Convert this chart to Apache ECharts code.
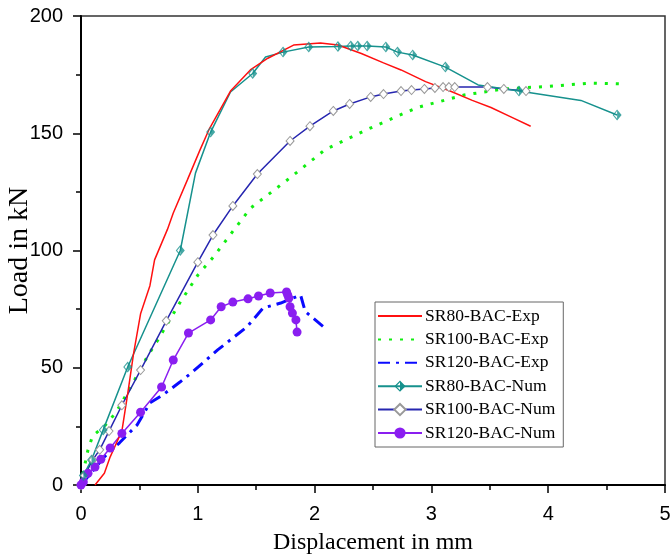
<!DOCTYPE html>
<html>
<head>
<meta charset="utf-8">
<script src="https://cdn.jsdelivr.net/npm/echarts@6/dist/echarts.min.js"></script>
<style>
  html, body { margin: 0; padding: 0; background: #fff; }
  #chart { width: 672px; height: 558px; }
</style>
</head>
<body>
<div id="chart"></div>
<script>
// load-displacement curves, [displacement mm, load kN]
var sr80Exp = [[0.12,0],[0.2,5],[0.25,12],[0.35,23],[0.4,39],[0.45,56],[0.51,73],[0.59,85],[0.63,96],
  [0.74,109],[0.79,116],[0.91,130],[1.02,143],[1.1,152],[1.28,168],[1.45,177],[1.6,182],[1.82,187.6],
  [2.05,188.5],[2.2,187.6],[2.4,184],[2.59,180],[2.74,177],[2.95,172],[3.16,168],[3.35,164],
  [3.51,161],[3.68,157],[3.85,153]];
var sr100Exp = [[0,0],[0.03,8],[0.06,15],[0.1,21],[0.2,25],[0.3,31],[0.44,43],[0.57,55],[0.66,62],
  [0.79,73],[0.85,78],[1.0,89.5],[1.13,97],[1.45,118],[1.79,131],[2.09,143],[2.45,151.6],[2.88,161],
  [3.28,166.3],[3.62,168.9],[4.0,170],[4.37,171.4],[4.65,171]];
var sr120Exp = [[0,0],[0.1,6],[0.2,12],[0.33,18],[0.48,25.6],[0.59,35],[0.7,38.4],[0.85,44],[0.95,48],
  [1.17,57.6],[1.42,67.4],[1.56,75.5],[1.71,77.6],[1.88,81],[1.92,74],[2.11,66]];
var sr80NumLine = [[0,0],[0.02,4],[0.09,10.7],[0.19,23.5],[0.4,50.3],[0.85,100],[0.98,133],[1.11,150.5],
  [1.28,167.6],[1.47,175.5],[1.58,182.5],[1.73,184.6],[1.95,186.8],[2.2,187],[2.31,187.2],[2.37,187.2],
  [2.45,187.2],[2.61,186.8],[2.71,184.6],[2.84,183.4],[3.12,178.2],[3.4,170.6],[3.75,168],[4.28,164],
  [4.59,157.8]];
var sr80NumMarks = [[0.02,4],[0.09,10.7],[0.19,23.5],[0.4,50.3],[0.85,100],[1.11,150.5],[1.47,175.5],
  [1.73,184.6],[1.95,186.8],[2.2,187],[2.31,187.2],[2.37,187.2],[2.45,187.2],[2.61,186.8],[2.71,184.6],
  [2.84,183.4],[3.12,178.2],[3.75,168],[4.59,157.8]];
var sr100Num = [[0,0],[0.03,4],[0.1,10.7],[0.16,15],[0.24,23],[0.35,34],[0.51,49],[0.73,70],[1.0,95],
  [1.13,106.6],[1.3,119],[1.51,132.6],[1.79,146.7],[1.96,153],[2.16,159.5],[2.3,162.5],[2.48,165.5],
  [2.59,166.7],[2.74,168],[2.83,168.4],[2.94,168.9],[3.03,169.3],[3.1,169.7],[3.15,169.7],[3.2,169.7],
  [3.48,169.7],[3.62,168.9],[3.81,168]];
var sr120Num = [[0,0],[0.02,1.3],[0.06,5],[0.12,7.7],[0.17,11],[0.25,15.8],[0.35,22],[0.51,31],
  [0.69,41.8],[0.79,53.3],[0.92,64.8],[1.11,70.4],[1.2,76],[1.3,78],[1.43,79.4],[1.52,80.6],[1.62,81.9],
  [1.76,82.3],[1.77,81],[1.78,79.7],[1.79,76],[1.81,73.3],[1.84,70.4],[1.85,65.2]];

var seriesNames = ['SR80-BAC-Exp','SR100-BAC-Exp','SR120-BAC-Exp','SR80-BAC-Num','SR100-BAC-Num','SR120-BAC-Num'];

var halfDiamond = 'path://M5,0L10,6L5,12L0,6Z M5,1.8L1.5,6L5,10.2Z';
var tealColor = '#16918d';

var myChart = echarts.init(document.getElementById('chart'));
var option = {
  animation: false,
  grid: {
    left: 81, right: 7, top: 16, bottom: 73,
    containLabel: false, outerBoundsMode: 'none',
    show: true, borderColor: '#333', borderWidth: 1.5
  },
  legend: {
    orient: 'vertical',
    left: 375, top: 302,
    padding: [5, 8, 5, 2],
    itemGap: 5.4,
    itemWidth: 44,
    itemHeight: 14,
    borderColor: '#666',
    borderWidth: 1,
    borderRadius: 0,
    textStyle: { fontFamily: 'Liberation Serif', fontSize: 17.5, color: '#000', lineHeight: 16, padding: [0, 0, 0, -2] },
    data: [
      { name: seriesNames[0], itemStyle: { opacity: 0 } },
      { name: seriesNames[1], itemStyle: { opacity: 0 } },
      { name: seriesNames[2], itemStyle: { opacity: 0 } },
      { name: seriesNames[3] },
      { name: seriesNames[4] },
      { name: seriesNames[5] }
    ]
  },
  xAxis: {
    type: 'value', min: 0, max: 5, interval: 1,
    name: 'Displacement in mm', nameLocation: 'middle', nameGap: 46, nameMoveOverlap: false,
    nameTextStyle: { fontFamily: 'Liberation Serif', fontSize: 24, color: '#000' },
    axisLine: { onZero: false, lineStyle: { color: '#000', width: 2 } },
    axisTick: { length: 8, lineStyle: { color: '#000', width: 1.5 } },
    minorTick: { show: true, splitNumber: 2, length: 5, lineStyle: { color: '#000', width: 1.5 } },
    axisLabel: { fontFamily: 'Liberation Sans', fontSize: 20, color: '#000', margin: 19 },
    splitLine: { show: false }
  },
  yAxis: {
    type: 'value', min: 0, max: 200, interval: 50,
    name: 'Load in kN', nameLocation: 'middle', nameGap: 47, nameMoveOverlap: false,
    nameTextStyle: { fontFamily: 'Liberation Serif', fontSize: 28, color: '#000' },
    axisLine: { onZero: false, lineStyle: { color: '#000', width: 2 } },
    axisTick: { length: 8, lineStyle: { color: '#000', width: 1.5 } },
    minorTick: { show: true, splitNumber: 2, length: 5, lineStyle: { color: '#000', width: 1.5 } },
    axisLabel: { fontFamily: 'Liberation Sans', fontSize: 20, color: '#000', margin: 18 },
    splitLine: { show: false }
  },
  series: [
    {
      name: seriesNames[1], type: 'line', data: sr100Exp, symbol: 'none',
      color: '#11ee11',
      lineStyle: { color: '#11ee11', width: 3, type: [3, 8] }
    },
    {
      name: seriesNames[2], type: 'line', data: sr120Exp, symbol: 'none',
      color: '#0a0aff',
      lineStyle: { color: '#0a0aff', width: 3, type: [12, 6, 3, 6] }
    },
    {
      name: seriesNames[4], type: 'line', data: sr100Num,
      symbol: 'diamond', symbolSize: [8, 9],
      color: '#2626b0',
      lineStyle: { color: '#2626b0', width: 1.5 },
      itemStyle: { color: '#fff', borderColor: '#999', borderWidth: 1 }
    },
    {
      name: seriesNames[5], type: 'line', data: sr120Num,
      symbol: 'circle', symbolSize: 9,
      color: '#8a1ef0',
      lineStyle: { color: '#8a1ef0', width: 1.5 },
      itemStyle: { color: '#8a1ef0' }
    },
    {
      name: seriesNames[3], type: 'line', data: sr80NumLine,
      symbol: halfDiamond, symbolSize: [9, 11], showSymbol: false,
      color: tealColor,
      lineStyle: { color: tealColor, width: 1.5 },
      itemStyle: { color: tealColor }
    },
    {
      name: 'sr80-marks', type: 'scatter', data: sr80NumMarks,
      symbol: halfDiamond, symbolSize: [9, 11],
      itemStyle: { color: tealColor }, z: 3
    },
    {
      name: seriesNames[0], type: 'line', data: sr80Exp, symbol: 'none',
      color: '#ff1010',
      lineStyle: { color: '#ff1010', width: 1.5 }
    }
  ]
};
myChart.setOption(option);
</script>
</body>
</html>
